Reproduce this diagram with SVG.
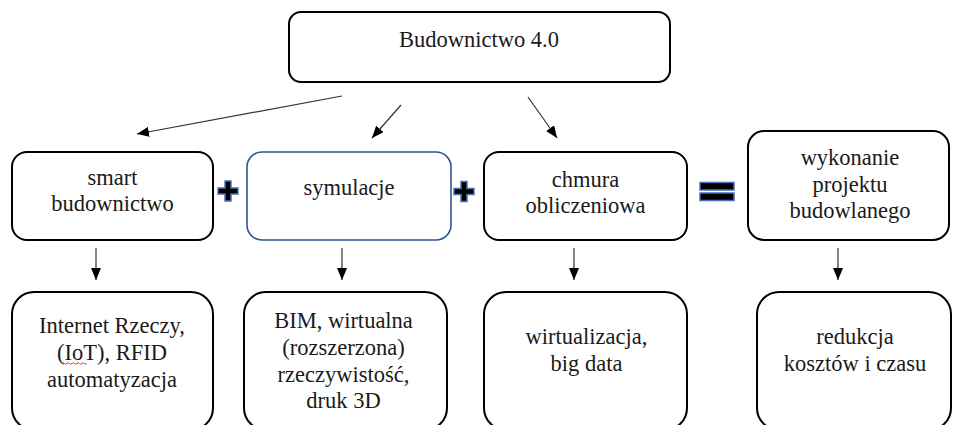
<svg xmlns="http://www.w3.org/2000/svg" width="953" height="425" viewBox="0 0 953 425" font-family="Liberation Serif, Times New Roman, DejaVu Serif, serif">
<defs>
<style>
.box{fill:#fff;stroke:#000;stroke-width:2}
.blue{fill:#fff;stroke:#2F5597;stroke-width:1.6}
text{font-size:22.5px;fill:#1a1a1a;text-anchor:middle}
.conn{stroke:#333;stroke-width:1.2;fill:none}
.sym{fill:#000;stroke:#4A72B8;stroke-width:1.5}
</style>
<marker id="ah" markerWidth="12" markerHeight="10" refX="12" refY="5" orient="auto" markerUnits="userSpaceOnUse">
<path d="M0,0 L12,5 L0,10 Z" fill="#000"/>
</marker>
</defs>
<rect width="953" height="425" fill="#fff"/>

<g id="connectors">
<line class="conn" x1="342" y1="96" x2="137" y2="134" marker-end="url(#ah)"/>
<line class="conn" x1="401" y1="105" x2="372" y2="138" marker-end="url(#ah)"/>
<line class="conn" x1="528" y1="97" x2="557" y2="138" marker-end="url(#ah)"/>
<line class="conn" x1="96" y1="248" x2="96" y2="280" marker-end="url(#ah)"/>
<line class="conn" x1="342" y1="248" x2="342" y2="280" marker-end="url(#ah)"/>
<line class="conn" x1="574" y1="248" x2="574" y2="280" marker-end="url(#ah)"/>
<line class="conn" x1="838" y1="248" x2="838" y2="280" marker-end="url(#ah)"/>
</g>

<g id="top">
<rect class="box" x="289" y="12" width="381" height="70" rx="12"/>
<text x="479" y="47">Budownictwo 4.0</text>
</g>

<g id="smart">
<rect class="box" x="12" y="152" width="201" height="88" rx="15"/>
<text x="112.5" y="185">smart</text>
<text x="112.5" y="211">budownictwo</text>
</g>

<g id="plus1">
<path class="sym" d="M225,181 h6 v7 h7 v6 h-7 v7 h-6 v-7 h-7 v-6 h7 Z"/>
</g>

<g id="symulacje">
<rect class="blue" x="247" y="152" width="204" height="88" rx="15"/>
<text x="349" y="195">symulacje</text>
</g>

<g id="plus2">
<path class="sym" d="M461,181.5 h6 v7 h7 v6 h-7 v7 h-6 v-7 h-7 v-6 h7 Z"/>
</g>

<g id="chmura">
<rect class="box" x="484" y="152" width="203" height="88" rx="15"/>
<text x="585.5" y="187">chmura</text>
<text x="585.5" y="213">obliczeniowa</text>
</g>

<g id="equals">
<rect class="sym" x="700" y="182.5" width="34" height="7.5"/>
<rect class="sym" x="700" y="193" width="34" height="7.5"/>
</g>

<g id="wykonanie">
<rect class="box" x="748" y="131" width="201" height="109" rx="16"/>
<text x="850" y="165">wykonanie</text>
<text x="850" y="192">projektu</text>
<text x="850" y="218">budowlanego</text>
</g>

<g id="iot">
<rect class="box" x="12" y="292" width="201" height="138" rx="22"/>
<text x="112" y="333">Internet Rzeczy,</text>
<text x="112" y="360">(IoT), RFID</text>
<text x="112" y="386.5">automatyzacja</text>
<path d="M62,363.5 q1.25,-1.5 2.5,0 t2.5,0 t2.5,0 t2.5,0 t2.5,0 t2.5,0 t2.5,0 t2.5,0 t2.5,0 t2.5,0" fill="none" stroke="#e02020" stroke-width="0.9"/>
</g>

<g id="bim">
<rect class="box" x="244" y="292" width="203" height="138" rx="22"/>
<text x="343.5" y="328">BIM, wirtualna</text>
<text x="343.5" y="355">(rozszerzona)</text>
<text x="343.5" y="381.5">rzeczywistość,</text>
<text x="343.5" y="408">druk 3D</text>
</g>

<g id="wirt">
<rect class="box" x="484" y="292" width="203" height="138" rx="22"/>
<text x="586.5" y="344">wirtualizacja,</text>
<text x="586.5" y="371">big data</text>
</g>

<g id="redukcja">
<rect class="box" x="757" y="292" width="194" height="138" rx="22"/>
<text x="855" y="344">redukcja</text>
<text x="855" y="371">kosztów i czasu</text>
</g>
</svg>
